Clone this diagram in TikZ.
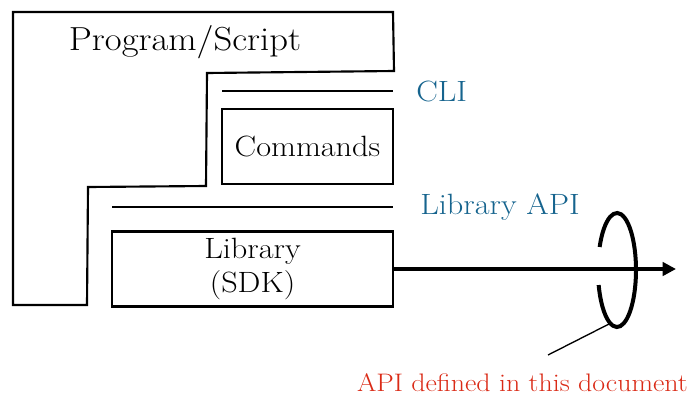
\documentclass[tikz,border=0pt]{standalone}
\usetikzlibrary{arrows.meta}
\usepackage{graphicx}
\definecolor{apiblue}{RGB}{22,100,142}
\definecolor{apired}{RGB}{218,42,22}
\newcommand{\hwide}[1]{\scalebox{1.1}[1]{#1}}
\begin{document}
\begin{tikzpicture}[x=0.75pt,y=-0.75pt,
  wall/.style={draw=black,line width=1.6pt,line join=miter},
  boxn/.style={draw=black,line width=1.6pt,inner sep=0pt,align=center},
  bigtxt/.style={font=\fontsize{22}{25.5}\selectfont},
  lbl/.style={text=apiblue,font=\fontsize{22}{25}\selectfont,anchor=west,inner sep=0pt},
  note/.style={text=apired,font=\fontsize{19}{22}\selectfont,anchor=east,inner sep=0pt}]
\useasboundingbox (0,0) rectangle (688,396);
% outer Program/Script shape
\draw[wall] (13,12) -- (393,12) -- (394,71) -- (207,73) -- (206,186) -- (88,187) -- (87,305) -- (13,305) -- cycle;
\node[font=\fontsize{25}{28}\selectfont] (prog) at (185,42) {\hwide{Program/Script}};
% CLI
\coordinate (cliA) at (222,91);
\coordinate (cliB) at (393,91);
\draw[line width=1.6pt] (cliA) -- (cliB);
\node[lbl] (cli) at (416,91) {\hwide{CLI}};
\node[boxn,bigtxt,minimum width=171*0.75pt,minimum height=75*0.75pt] (cmd) at (307.5,146.5) {\hwide{Commands}};
% Library API
\coordinate (libA) at (112,207);
\coordinate (libB) at (393,207);
\draw[line width=1.6pt] (libA) -- (libB);
\node[lbl] (libapi) at (420,207) {\hwide{Library API}};
\node[boxn,bigtxt,minimum width=281*0.75pt,minimum height=75*0.75pt] (lib) at (252.5,269) {\hwide{Library}\\\hwide{(SDK)}};
% arrow
\coordinate (tip) at (676,269);
\draw[line width=3.5pt,-{Triangle[length=10pt,width=10pt]}] (lib.east) -- (tip);
% ellipse ring
\coordinate (ec) at (617,270);
\draw[line width=3pt] ([shift={(203.8:19 and 57)}]ec) arc[start angle=203.8,end angle=524.7,x radius=19,y radius=57];
% pointer
\coordinate (p1) at (609,324);
\coordinate (p2) at (548,355);
\draw[line width=1pt] (p1) -- (p2);
\node[note] (doc) at (688,383) {\hwide{API defined in this document}};
\end{tikzpicture}
\end{document}
